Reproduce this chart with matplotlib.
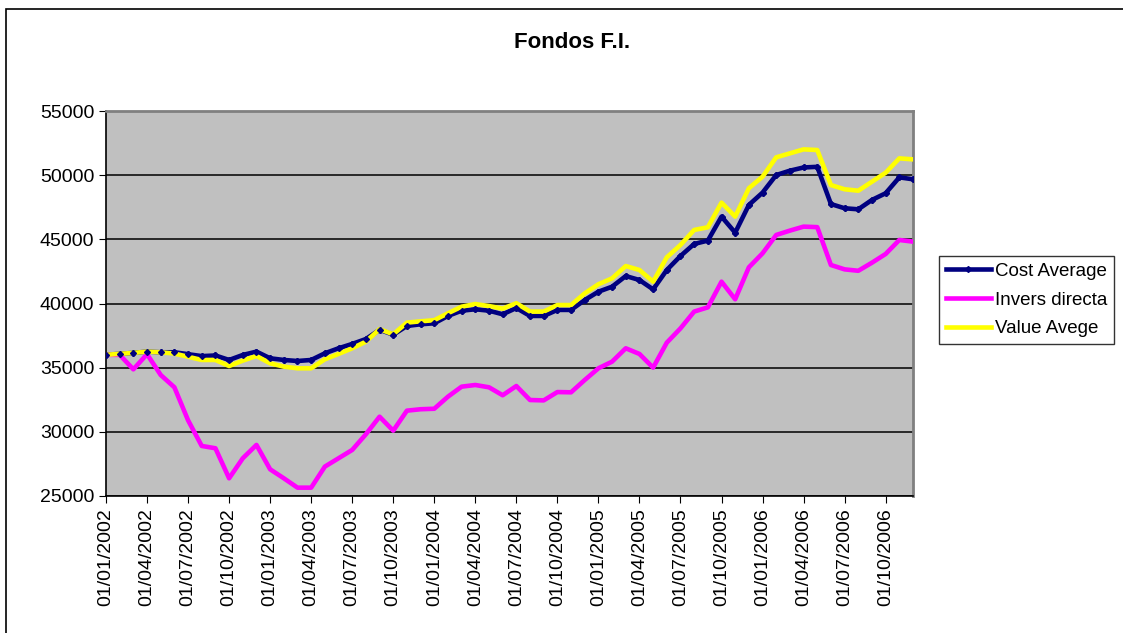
import matplotlib
matplotlib.use("Agg")
import matplotlib.pyplot as plt
import pandas as pd
from matplotlib.patches import Rectangle

plt.rcParams['font.family'] = ['Liberation Sans', 'DejaVu Sans']

# monthly series, Jan 2002 .. Dec 2006
months = pd.date_range('2002-01-01', periods=60, freq='MS')

cost_average = [36000, 36080, 36150, 36250, 36200, 36200, 36050, 35900, 35950, 35600,
                35990, 36250, 35730, 35600, 35520, 35600, 36120, 36510, 36850, 37230,
                37950, 37570, 38250, 38380, 38460, 39030, 39440, 39550, 39440, 39160,
                39650, 39030, 39030, 39500, 39500, 40270, 40920, 41310, 42140, 41830,
                41100, 42610, 43700, 44640, 44900, 46770, 45520, 47680, 48640, 50010,
                50350, 50600, 50650, 47750, 47420, 47340, 48070, 48590, 49830, 49680]

invers_directa = [36000, 36000, 34870, 36050, 34430, 33470, 30900, 28900, 28720, 26380,
                  27940, 28980, 27080, 26380, 25650, 25650, 27290, 27940, 28590, 29810,
                  31180, 30090, 31650, 31760, 31800, 32740, 33520, 33650, 33470, 32850,
                  33570, 32480, 32450, 33100, 33080, 34040, 34950, 35470, 36510, 36070,
                  35000, 36950, 38060, 39370, 39700, 41700, 40330, 42820, 43910, 45340,
                  45680, 45990, 45950, 43000, 42660, 42550, 43180, 43860, 44950, 44820]

value_avege = [36000, 36080, 36150, 36250, 36200, 36100, 35850, 35600, 35600, 35130,
               35550, 35910, 35340, 35080, 34950, 34950, 35650, 36070, 36510, 37030,
               38000, 37600, 38510, 38610, 38700, 39240, 39750, 39960, 39800, 39600,
               40020, 39370, 39370, 39880, 39880, 40790, 41500, 41960, 42920, 42610,
               41700, 43600, 44560, 45730, 45940, 47860, 46770, 48980, 49880, 51390,
               51700, 52010, 51960, 49230, 48900, 48790, 49490, 50190, 51310, 51230]

labels = [d.strftime('%d/%m/%Y') for d in months]
x = list(range(len(months)))

fig = plt.figure(figsize=(11.23, 6.33), dpi=100)
ax = fig.add_axes([106 / 1123, 1 - 496 / 633, 807 / 1123, 385 / 633])
ax.set_facecolor('#C0C0C0')

ax.plot(x, cost_average, color='#000080', lw=3.3, zorder=3, label='Cost Average',
        marker='D', markersize=3)
ax.plot(x, invers_directa, color='#FF00FF', lw=3.3, zorder=4, label='Invers directa')
ax.plot(x, value_avege, color='#FFFF00', lw=3.3, zorder=5, label='Value Avege')
ax.plot(x, cost_average, color='#000080', lw=0, marker='D', markersize=3, zorder=6)

ax.set_xlim(0, 59)
ax.set_ylim(25000, 55000)
ax.set_yticks(range(25000, 55001, 5000))
ax.set_xticks(x[::3])
ax.set_xticklabels(labels[::3], rotation=90)
ax.tick_params(labelsize=14, direction='out', length=5, color='black')
ax.tick_params(axis='x', pad=4)
ax.yaxis.grid(True, color='black', lw=1.1)
ax.set_axisbelow(True)

for side in ('top', 'right'):
    ax.spines[side].set_color('#808080')
    ax.spines[side].set_linewidth(2)
for side in ('left', 'bottom'):
    ax.spines[side].set_color('black')
    ax.spines[side].set_linewidth(1.2)

fig.text(572 / 1123, 1 - 42 / 633, 'Fondos F.I.', fontsize=16, fontweight='bold',
         ha='center', va='center')

leg = fig.legend(loc='center left', bbox_to_anchor=(939 / 1123, 1 - 300 / 633),
                 fontsize=13.5, frameon=True, fancybox=False, edgecolor='black',
                 handlelength=2.4, handletextpad=0.25, borderpad=0.35,
                 labelspacing=0.62, borderaxespad=0)
leg.get_frame().set_linewidth(1.0)
for h in leg.legend_handles:
    h.set_linewidth(3.3)

# outer chart border (right and bottom edges fall outside the image)
fig.patches.append(Rectangle((6 / 1123, -0.01), 1.1, 1 - 9 / 633 + 0.01,
                             transform=fig.transFigure, fill=False,
                             edgecolor='black', lw=1.2))

fig.savefig('out.png', dpi=100)
